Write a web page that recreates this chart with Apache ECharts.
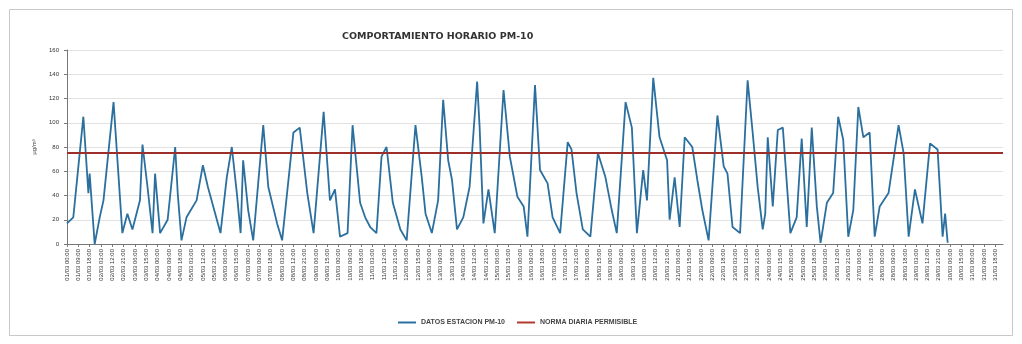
<!DOCTYPE html>
<html>
<head>
<meta charset="utf-8">
<script src="https://cdn.jsdelivr.net/npm/echarts@6/dist/echarts.min.js"></script>
<style>
  html, body { margin: 0; padding: 0; background: #fff; }
  #chart { width: 1022px; height: 344px; }
</style>
</head>
<body>
<div id="chart"></div>
<script>
// horas desde el inicio del mes (vértices)
var horas = [0, 5, 13, 17, 18, 22, 26, 29, 37, 44, 48, 52, 58, 60, 64, 68, 70, 74, 80, 86, 88, 91, 95, 103, 108, 112,
  122, 127, 131, 135, 138, 140, 144, 148, 156, 160, 167, 171, 180, 185, 191, 196, 204, 209, 213, 217, 223, 227, 233,
  237, 241, 246, 250, 254, 259, 265, 270, 277, 282, 285, 290, 295, 299, 303, 306, 310, 315, 320, 326, 328, 331, 335,
  340, 347, 352, 358, 363, 366, 372, 376, 382, 386, 392, 398, 401, 405, 410, 416, 422, 428, 433, 437, 444, 449, 453,
  458, 461, 466, 471, 477, 479, 483, 487, 491, 497, 501, 505, 510, 517, 522, 525, 529, 535, 541, 545, 549, 553, 555,
  557, 561, 565, 569, 575, 580, 584, 588, 592, 596, 599, 604, 609, 613, 617, 621, 625, 629, 633, 638, 642, 646, 653,
  661, 665, 669, 674, 680, 686, 692, 696, 698, 700];
var pm10 = [17, 22, 105, 42, 58, 0, 22, 36, 117, 9, 25, 12, 36, 82, 47, 9, 58, 9, 20, 80, 42, 3, 22, 36, 65, 47,
  9, 55, 80, 42, 9, 69, 28, 3, 98, 47, 17, 3, 92, 96, 42, 9, 109, 36, 45, 6, 9, 98, 34,
  22, 14, 9, 72, 80, 34, 12, 3, 98, 55, 25, 9, 36, 119, 69, 53, 12, 22, 47, 134, 96, 17, 45,
  9, 127, 72, 39, 31, 6, 131, 61, 50, 22, 9, 84, 78, 42, 12, 6, 75, 55, 28, 9, 117, 96, 9,
  61, 36, 137, 88, 69, 20, 55, 14, 88, 80, 53, 28, 3, 106, 64, 58, 14, 9, 135, 92, 47, 12, 25,
  88, 31, 94, 96, 9, 22, 87, 14, 96, 31, 1, 34, 42, 105, 86, 6, 28, 113, 88, 92, 6, 31, 42,
  98, 75, 6, 45, 17, 83, 78, 6, 25, 1];
// norma diaria
var normaHoras = [0, 744];
var normaValor = [75, 75];

function pares(xs, ys) {
  return xs.map(function (x, i) { return [x, ys[i]]; });
}

// etiqueta de fecha cada 9 horas
function fecha(h) {
  var d = Math.floor(h / 24) + 1;
  var hh = h % 24;
  return (d < 10 ? '0' + d : d) + '/03 ' + (hh < 10 ? '0' + hh : hh) + ':00';
}

var myChart = echarts.init(document.getElementById('chart'));
myChart.setOption({
  backgroundColor: '#fff',
  animation: false,
  title: {
    text: 'COMPORTAMIENTO HORARIO PM-10',
    left: 337,
    top: 27,
    textStyle: { fontSize: 9.5, fontWeight: 'bold', color: '#333', fontFamily: 'DejaVu Sans' }
  },
  graphic: [{
    type: 'rect',
    shape: { x: 9.5, y: 9.5, width: 1003, height: 326 },
    style: { fill: 'none', stroke: '#c8c8c8', lineWidth: 1 },
    silent: true
  }],
  legend: {
    bottom: 13,
    left: 393,
    itemWidth: 18,
    itemHeight: 2,
    itemGap: 12,
    icon: 'rect',
    textStyle: { fontSize: 7, color: '#444', fontWeight: 'bold', fontFamily: 'Liberation Sans' },
    data: ['DATOS ESTACION PM-10', 'NORMA DIARIA PERMISIBLE']
  },
  grid: { left: 67, right: 19, top: 50, bottom: 100 },
  xAxis: {
    type: 'value',
    min: 0,
    max: 744,
    interval: 9,
    splitLine: { show: false },
    axisLine: { lineStyle: { color: '#777' } },
    axisTick: { show: true, length: 3, lineStyle: { color: '#777' } },
    axisLabel: {
      rotate: 90,
      fontSize: 6,
      color: '#333',
      margin: 5,
      showMaxLabel: false,
      fontFamily: 'Liberation Sans',
      formatter: fecha
    }
  },
  yAxis: {
    type: 'value',
    min: 0,
    max: 160,
    interval: 20,
    name: 'µg/m³',
    nameLocation: 'middle',
    nameGap: 30,
    nameRotate: 90,
    nameTextStyle: { fontSize: 6, color: '#444' },
    axisLine: { show: true, lineStyle: { color: '#777' } },
    axisTick: { show: true, length: 3, lineStyle: { color: '#777' } },
    splitLine: { lineStyle: { color: '#e2e2e2' } },
    axisLabel: { fontSize: 6, color: '#333', margin: 8, fontFamily: 'Liberation Sans' }
  },
  series: [{
    name: 'DATOS ESTACION PM-10',
    type: 'line',
    showSymbol: false,
    data: pares(horas, pm10),
    itemStyle: { color: '#2b6f9e' },
    lineStyle: { color: '#2b6f9e', width: 1.8 }
  }, {
    name: 'NORMA DIARIA PERMISIBLE',
    type: 'line',
    showSymbol: false,
    data: pares(normaHoras, normaValor),
    itemStyle: { color: '#b03a2e' },
    lineStyle: { color: '#9c2f2a', width: 2 }
  }]
});

window.addEventListener('resize', function () {
  myChart.resize();
});
</script>
</body>
</html>
